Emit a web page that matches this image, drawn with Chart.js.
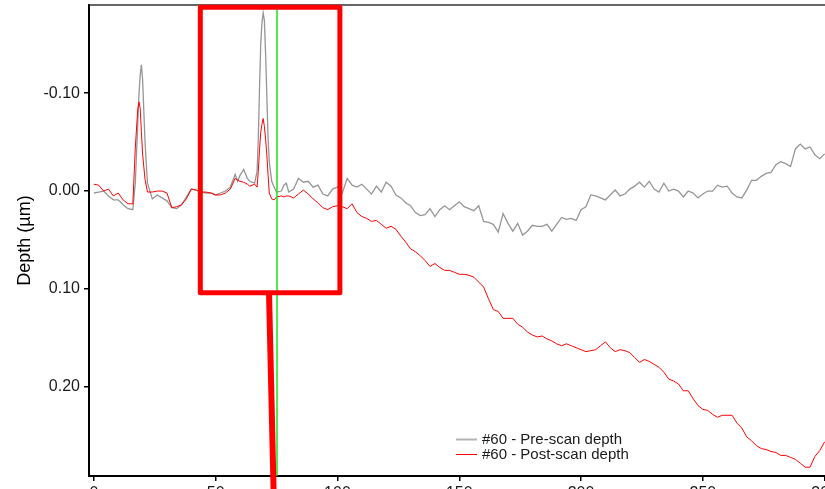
<!DOCTYPE html>
<html>
<head>
<meta charset="utf-8">
<script src="https://cdn.jsdelivr.net/npm/chart.js@4/dist/chart.umd.min.js"></script>
<style>
  html, body { margin: 0; padding: 0; background: #fff; overflow: hidden; width: 825px; height: 489px; }
  #wrap { position: absolute; left: 0; top: 0; width: 870px; height: 510px; }
</style>
</head>
<body>
<div id="wrap"><canvas id="depthChart" width="870" height="510"></canvas></div>
<script>
// Scan positions along the profile
const positions = [
  0, 2, 4, 6, 8, 10, 12, 14, 16, 17, 18, 18.5, 19, 19.5, 20, 21, 22,
  24, 26, 28, 30, 32, 34, 36, 38, 40, 42, 44, 46, 48, 50, 52, 54, 56,
  58, 59, 60, 61.5, 63, 64, 66, 67, 67.5, 68, 68.5, 69, 69.5, 70, 70.5, 71, 71.5, 72, 73, 74, 75, 77, 78, 79, 80,
  82, 84, 86, 88, 90, 92, 94, 96, 98, 100,
  102, 104, 106, 108, 110, 112, 114, 116, 118, 120, 122, 124, 126, 128, 130, 132, 134, 136, 138, 140,
  142, 144, 146, 148, 150, 152, 154, 156, 158, 160, 162, 164, 166, 168, 170, 172, 174, 176, 178, 180,
  182, 184, 186, 188, 190, 192, 194, 196, 198, 200, 202, 204, 206, 208, 210, 212, 214, 216, 218, 220,
  222, 224, 226, 228, 230, 232, 234, 236, 238, 240, 242, 244, 246, 248, 250, 252, 254, 256, 258, 260,
  262, 264, 266, 268, 270, 272, 274, 276, 278, 280, 282, 284, 286, 288, 290, 292, 294, 296, 298, 300
];

// #60 - Pre-scan depth (µm)
const preScanDepth = [
  0.002, 0.001, 0.000, 0.005, 0.009, 0.009, 0.014, 0.018, 0.019,
  -0.008, -0.068, -0.098, -0.118, -0.129, -0.114, -0.050, -0.008,
  0.008, 0.004, 0.007, 0.010, 0.017, 0.018, 0.014, 0.006, -0.002, -0.001, 0.001, 0.002, 0.002, 0.004, 0.002, 0.000, -0.004,
  -0.017, -0.010, -0.016, -0.022, -0.013, -0.010, -0.008, -0.020, -0.054, -0.105, -0.150, -0.172, -0.182, -0.174, -0.140, -0.098, -0.055, -0.030, -0.010, -0.004, 0.001, 0.000, -0.006, -0.008, 0.001,
  -0.002, -0.013, -0.009, -0.010, -0.004, -0.006, 0.003, 0.005, -0.002, -0.004,
  0.002, -0.013, -0.006, -0.004, -0.007, -0.002, 0.003, -0.005, 0.001, -0.009,
  -0.005, 0.004, 0.007, 0.012, 0.015, 0.022, 0.025, 0.024, 0.018, 0.026,
  0.019, 0.015, 0.019, 0.015, 0.011, 0.016, 0.018, 0.020, 0.015, 0.031,
  0.032, 0.034, 0.042, 0.023, 0.033, 0.041, 0.033, 0.045, 0.041, 0.035,
  0.036, 0.036, 0.034, 0.041, 0.034, 0.027, 0.029, 0.028, 0.030, 0.019,
  0.016, 0.004, 0.005, 0.007, 0.009, 0.004, -0.001, 0.005, 0.003, -0.002,
  -0.005, -0.009, -0.004, -0.010, -0.002, 0.001, -0.008, 0.000, -0.002, 0.000,
  0.006, 0.000, 0.002, 0.007, 0.003, 0.000, 0.000, -0.006, -0.004, -0.005,
  0.002, 0.006, 0.007, -0.001, -0.011, -0.011, -0.015, -0.018, -0.019, -0.027,
  -0.030, -0.028, -0.025, -0.043, -0.048, -0.043, -0.045, -0.037, -0.033, -0.038
];

// #60 - Post-scan depth (µm)
const postScanDepth = [
  -0.007, -0.006, 0.000, -0.002, 0.005, 0.002, 0.009, 0.013, 0.013,
  -0.044, -0.083, -0.091, -0.085, -0.061, -0.038, -0.012, 0.001,
  0.001, 0.000, 0.000, 0.002, 0.017, 0.016, 0.014, 0.008, -0.002, -0.001, 0.001, 0.001, 0.002, 0.004, 0.004, 0.002, -0.002,
  -0.013, -0.011, -0.010, -0.009, -0.007, -0.005, -0.007, -0.004, -0.020, -0.042, -0.060, -0.068, -0.074, -0.066, -0.053, -0.037, -0.017, 0.002, 0.008, 0.009, 0.006, 0.005, 0.006, 0.005, 0.005,
  0.007, 0.003, -0.001, 0.003, 0.008, 0.012, 0.017, 0.019, 0.016, 0.015,
  0.016, 0.018, 0.013, 0.022, 0.026, 0.028, 0.031, 0.030, 0.034, 0.038,
  0.036, 0.039, 0.046, 0.052, 0.059, 0.062, 0.066, 0.071, 0.077, 0.074,
  0.078, 0.081, 0.081, 0.083, 0.085, 0.085, 0.086, 0.088, 0.093, 0.098,
  0.110, 0.121, 0.123, 0.130, 0.130, 0.130, 0.136, 0.139, 0.144, 0.147,
  0.149, 0.148, 0.151, 0.153, 0.156, 0.158, 0.156, 0.158, 0.160, 0.162,
  0.164, 0.163, 0.162, 0.158, 0.154, 0.160, 0.164, 0.162, 0.163, 0.165,
  0.170, 0.175, 0.172, 0.174, 0.177, 0.180, 0.185, 0.192, 0.194, 0.197,
  0.204, 0.204, 0.212, 0.219, 0.223, 0.224, 0.228, 0.231, 0.229, 0.229,
  0.229, 0.237, 0.242, 0.251, 0.255, 0.260, 0.263, 0.264, 0.266, 0.267,
  0.270, 0.270, 0.272, 0.274, 0.278, 0.282, 0.282, 0.271, 0.265, 0.256
];

const seriesLabels = ['#60 - Pre-scan depth', '#60 - Post-scan depth'];
const xTickValues = [0, 50, 100, 150, 200, 250, 300];
const yTickValues = [-0.10, 0.00, 0.10, 0.20];

// Cursor position and highlighted region (data units)
const cursorPosition = 75;
const regionBox = { x0: 43.7, x1: 101.0, y0: -0.1876, y1: 0.1038 };
const pointerLine = { x0: 71.9, y0: 0.1038, x1: 74.1, y1: 0.34 };

const FONT = '"Liberation Sans", Arial, sans-serif';
const PRE_COLOR = '#969696';
const POST_COLOR = '#ff0000';

const toPoints = (ys) => positions.map((x, i) => ({ x: x, y: ys[i] }));

// Top edge of the plot frame
const framePlugin = {
  id: 'frame',
  beforeDatasetsDraw(chart) {
    const { ctx, chartArea: a } = chart;
    ctx.save();
    ctx.strokeStyle = '#333';
    ctx.lineWidth = 1.5;
    ctx.beginPath();
    ctx.moveTo(a.left, a.top);
    ctx.lineTo(a.right, a.top);
    ctx.stroke();
    ctx.restore();
  }
};

// Cursor line, highlight box and pointer
const overlayPlugin = {
  id: 'overlay',
  afterDatasetsDraw(chart) {
    const { ctx, chartArea: a, scales: { x: xs, y: ys } } = chart;
    ctx.save();
    const gx = Math.round(xs.getPixelForValue(cursorPosition));
    ctx.strokeStyle = '#14e614';
    ctx.lineWidth = 1.5;
    ctx.beginPath();
    ctx.moveTo(gx, a.top);
    ctx.lineTo(gx, a.bottom);
    ctx.stroke();

    ctx.strokeStyle = '#ff0000';
    ctx.lineJoin = 'round';
    ctx.lineWidth = 5;
    const l = xs.getPixelForValue(regionBox.x0);
    const r = xs.getPixelForValue(regionBox.x1);
    const t = ys.getPixelForValue(regionBox.y0);
    const b = ys.getPixelForValue(regionBox.y1);
    ctx.strokeRect(l, t, r - l, b - t);

    ctx.lineWidth = 6;
    ctx.beginPath();
    ctx.moveTo(xs.getPixelForValue(pointerLine.x0), ys.getPixelForValue(pointerLine.y0));
    ctx.lineTo(xs.getPixelForValue(pointerLine.x1), ys.getPixelForValue(pointerLine.y1));
    ctx.stroke();
    ctx.restore();
  }
};

// Legend inside the plot, lower middle
const legendPlugin = {
  id: 'insideLegend',
  afterDraw(chart) {
    const { ctx } = chart;
    const rows = [
      { label: seriesLabels[0], color: '#b4b4b4', width: 2, y: 439 },
      { label: seriesLabels[1], color: POST_COLOR, width: 1, y: 454 }
    ];
    ctx.save();
    ctx.font = '15px ' + FONT;
    ctx.textBaseline = 'middle';
    ctx.fillStyle = '#1a1a1a';
    rows.forEach(row => {
      ctx.strokeStyle = row.color;
      ctx.lineWidth = row.width;
      ctx.beginPath();
      ctx.moveTo(456, row.y + 0.5);
      ctx.lineTo(477, row.y + 0.5);
      ctx.stroke();
      ctx.fillText(row.label, 482, row.y + 1);
    });
    ctx.restore();
  }
};

new Chart(document.getElementById('depthChart'), {
  type: 'line',
  data: {
    datasets: [
      { label: seriesLabels[1], data: toPoints(postScanDepth), borderColor: POST_COLOR, borderWidth: 1, pointRadius: 0, tension: 0, order: 0 },
      { label: seriesLabels[0], data: toPoints(preScanDepth), borderColor: PRE_COLOR, borderWidth: 1.3, pointRadius: 0, tension: 0, order: 1 }
    ]
  },
  options: {
    responsive: false,
    animation: false,
    devicePixelRatio: 1,
    layout: { padding: { top: 5, right: 21, left: 0, bottom: 0 } },
    plugins: { legend: { display: false }, tooltip: { enabled: false } },
    scales: {
      x: {
        type: 'linear',
        min: -2,
        max: 310,
        afterBuildTicks: s => { s.ticks = xTickValues.map(v => ({ value: v })); },
        afterFit: s => { s.height = 34; s.paddingLeft = 0; s.paddingRight = 0; },
        grid: { drawOnChartArea: false, drawTicks: true, tickLength: 5, color: '#000', lineWidth: 1.5 },
        border: { display: true, color: '#000', width: 2 },
        ticks: { font: { family: FONT, size: 16 }, color: '#1a1a1a', padding: 3, maxRotation: 0, callback: v => String(v) }
      },
      y: {
        type: 'linear',
        reverse: true,
        min: -0.19,
        max: 0.291,
        afterBuildTicks: s => { s.ticks = yTickValues.map(v => ({ value: v })); },
        afterFit: s => { s.width = 89; s.paddingTop = 0; s.paddingBottom = 0; },
        grid: { drawOnChartArea: false, drawTicks: true, tickLength: 5, color: '#000', lineWidth: 1.5 },
        border: { display: true, color: '#000', width: 2 },
        ticks: { font: { family: FONT, size: 16 }, color: '#1a1a1a', padding: 4, callback: v => v.toFixed(2) },
        title: { display: true, text: 'Depth (µm)', font: { family: FONT, size: 18 }, color: '#000', padding: { top: 14, bottom: 0 } }
      }
    }
  },
  plugins: [framePlugin, overlayPlugin, legendPlugin]
});
</script>
</body>
</html>
